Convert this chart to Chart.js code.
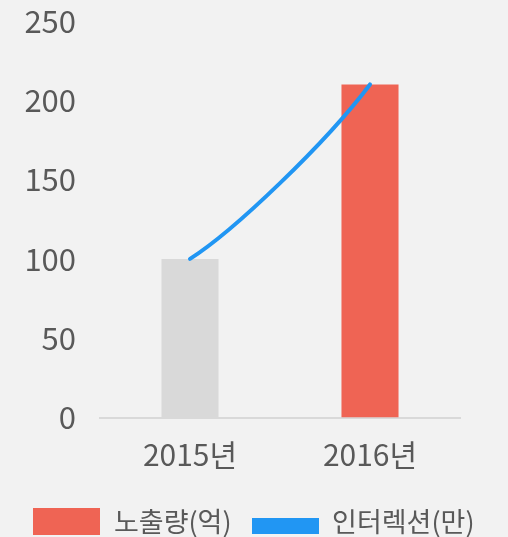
<!DOCTYPE html>
<html>
<head>
<meta charset="utf-8">
<script src="https://cdn.jsdelivr.net/npm/chart.js@4"></script>
<style>
  body { margin: 0; background: #f2f2f2; }
  #wrap { width: 508px; height: 537px; }
</style>
</head>
<body>
<div id="wrap"><canvas id="chart"></canvas></div>
<script>
// datos del gráfico
const years = ['2015년', '2016년'];
const exposure = [100, 210];     // 노출량(억)
const interaction = [100, 210];  // 인터렉션(만)
const yTicks = [0, 50, 100, 150, 200, 250];

const barColors = ['#d9d9d9', '#ef6454'];
const lineColor = '#2196f3';
const textColor = '#595959';
const fontFamily = "'Noto Sans CJK KR', 'Noto Sans', sans-serif";

// cajas de la leyenda (rectángulo rojo y barra azul más baja)
function legendSwatch(color, top, h) {
    const c = document.createElement('canvas');
    c.width = 67;
    c.height = 27;
    const g = c.getContext('2d');
    g.fillStyle = color;
    g.fillRect(0, top, 67, h);
    return c;
}
const redSwatch = legendSwatch(barColors[1], 0, 27);
const blueSwatch = legendSwatch(lineColor, 10, 16);

// curva de la línea (puntos de control relativos a los extremos)
const curvePlugin = {
    id: 'curve',
    beforeDatasetDraw(chart, args) {
        const meta = args.meta;
        if (meta.type !== 'line') return;
        meta.dataset.updateControlPoints(chart.chartArea, 'x');
        const pts = meta.data;
        for (let i = 0; i < pts.length - 1; i++) {
            const a = pts[i], b = pts[i + 1];
            const dx = b.x - a.x, dy = b.y - a.y;
            a.cp2x = a.x + 0.247 * dx;
            a.cp2y = a.y + 0.163 * dy;
            b.cp1x = b.x - 0.247 * dx;
            b.cp1y = b.y - 0.338 * dy;
        }
    }
};

const config = {
    type: 'bar',
    data: {
        labels: years,
        datasets: [{
            type: 'line',
            label: '인터렉션(만)',
            data: interaction,
            borderColor: lineColor,
            borderWidth: 4,
            borderCapStyle: 'round',
            tension: 0.4,
            pointRadius: 0,
            order: 0
        }, {
            label: '노출량(억)',
            data: exposure,
            backgroundColor: barColors,
            barPercentage: 0.317,
            categoryPercentage: 1,
            order: 1
        }]
    },
    options: {
        responsive: true,
        maintainAspectRatio: false,
        animation: false,
        layout: {
            padding: { left: 0, right: 0, top: 21, bottom: -8 }
        },
        plugins: {
            tooltip: { enabled: false },
            legend: {
                position: 'bottom',
                labels: {
                    usePointStyle: true,
                    pointStyleWidth: 67,
                    padding: 20,
                    color: textColor,
                    font: { family: fontFamily, size: 27 },
                    generateLabels: () => [
                        { text: '노출량(억)', pointStyle: redSwatch, fillStyle: barColors[1], lineWidth: 0, fontColor: textColor, datasetIndex: 1 },
                        { text: '인터렉션(만)', pointStyle: blueSwatch, fillStyle: lineColor, lineWidth: 0, fontColor: textColor, datasetIndex: 0 }
                    ]
                }
            }
        },
        scales: {
            x: {
                grid: { display: false, drawTicks: false },
                border: { display: true, color: '#d9d9d9', width: 2 },
                ticks: {
                    color: textColor,
                    padding: 19,
                    font: { family: fontFamily, size: 30 }
                },
                afterFit(scale) { scale.height -= 3.5; }
            },
            y: {
                min: 0,
                max: 250,
                grid: { display: false, drawTicks: false },
                border: { display: false },
                afterBuildTicks(scale) { scale.ticks = yTicks.map(v => ({ value: v })); },
                ticks: {
                    color: textColor,
                    padding: 24,
                    font: { family: fontFamily, size: 31 }
                },
                afterFit(scale) {
                    scale.width = 100;
                    scale.paddingTop = 0;
                    scale.paddingBottom = 0;
                }
            },
            yRight: {
                type: 'linear',
                position: 'right',
                grid: { display: false, drawTicks: false },
                border: { display: false },
                ticks: { display: false },
                afterFit(scale) { scale.width = 48; }
            }
        }
    },
    plugins: [curvePlugin]
};

const ctx = document.getElementById('chart').getContext('2d');
new Chart(ctx, config);
</script>
</body>
</html>
